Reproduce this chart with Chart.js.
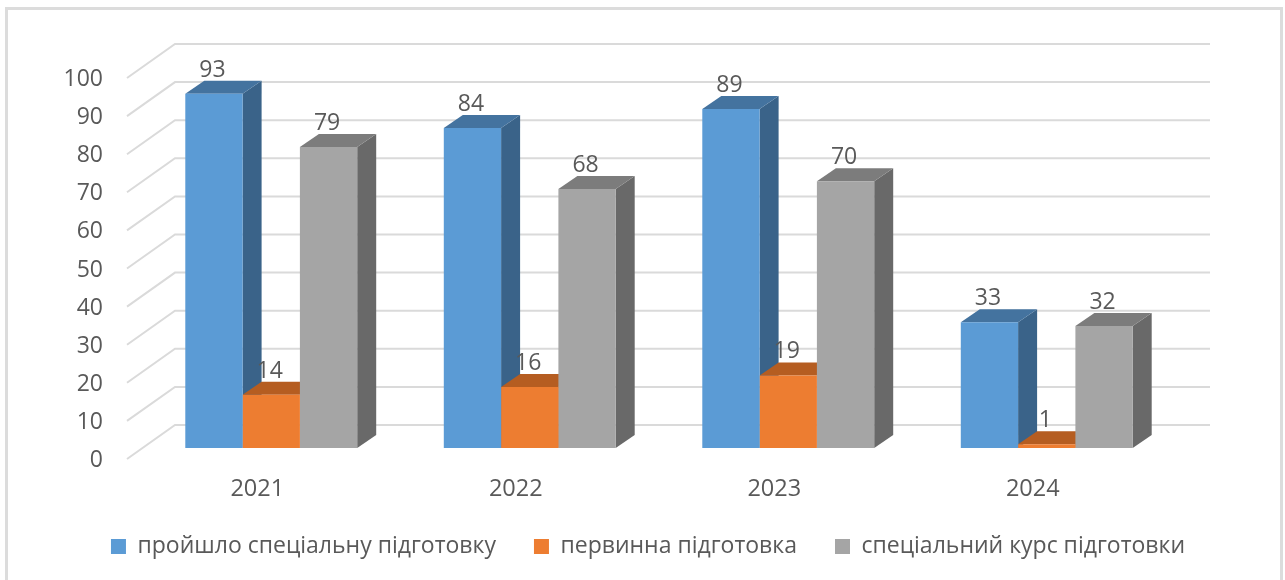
<!DOCTYPE html>
<html>
<head>
<meta charset="utf-8">
<script src="https://cdn.jsdelivr.net/npm/chart.js@4"></script>
<style>
  html, body { margin: 0; background: #fff; overflow: hidden; }
  #frame { position: absolute; left: 5px; top: 7px; width: 1272px; height: 600px; border: 3px solid #dcdcdc; }
  #mycanvas { position: absolute; left: 0; top: 0; filter: blur(0.4px); }
</style>
</head>
<body>
<div id="frame"></div>
<div style="position:absolute;left:0;top:0;width:1285px;height:580px">
  <canvas id="mycanvas" width="1285" height="580"></canvas>
</div>
<script>
var years = ['2021', '2022', '2023', '2024'];
var passedTraining = [93, 84, 89, 33];
var initialTraining = [14, 16, 19, 1];
var specialCourse = [79, 68, 70, 32];

var textColor = '#595959';
var fontName = '"Open Sans", "Noto Sans", sans-serif';

// colours of the fake 3D faces, same order as datasets
var topColors = ['#44739F', '#B55D21', '#7C7C7C'];
var sideColors = ['#3A6389', '#A0521D', '#696969'];

var depthX = 19, depthY = 13; // bar depth
var floorBack = [33, 23], floorFront = [15, 11]; // wall and front edge, from the bar plane

var grid3d = {
  id: 'grid3d',
  afterLayout: function(chart) {
    // legend is centred under the whole frame, not under the plot
    chart.legend.left += 60;
    chart.legend.right += 60;
  },
  beforeDatasetsDraw: function(chart) {
    var ctx = chart.ctx, y = chart.scales.y, area = chart.chartArea;
    ctx.save();
    ctx.strokeStyle = '#DADADA';
    ctx.lineWidth = 2;
    y.ticks.forEach(function(t) {
      var py = y.getPixelForValue(t.value);
      ctx.beginPath();
      ctx.moveTo(area.left - floorFront[0], py + floorFront[1]);
      ctx.lineTo(area.left + floorBack[0], py - floorBack[1]);
      ctx.lineTo(area.right + floorBack[0] + 1, py - floorBack[1]);
      ctx.stroke();
    });
    // sides and tops first, series by series, front faces come on top of them
    chart.data.datasets.forEach(function(ds, i) {
      chart.getDatasetMeta(i).data.forEach(function(bar) {
        var l = bar.x - bar.width / 2, r = bar.x + bar.width / 2;
        ctx.fillStyle = sideColors[i];
        ctx.beginPath();
        ctx.moveTo(r, bar.y);
        ctx.lineTo(r + depthX, bar.y - depthY);
        ctx.lineTo(r + depthX, bar.base - depthY);
        ctx.lineTo(r, bar.base);
        ctx.closePath();
        ctx.fill();
        ctx.fillStyle = topColors[i];
        ctx.beginPath();
        ctx.moveTo(l, bar.y);
        ctx.lineTo(l + depthX, bar.y - depthY);
        ctx.lineTo(r + depthX, bar.y - depthY);
        ctx.lineTo(r, bar.y);
        ctx.closePath();
        ctx.fill();
      });
    });
    ctx.restore();
  },
  afterDatasetsDraw: function(chart) {
    var ctx = chart.ctx;
    ctx.save();
    ctx.fillStyle = textColor;
    ctx.font = '23px ' + fontName;
    ctx.textAlign = 'center';
    ctx.textBaseline = 'middle';
    chart.data.datasets.forEach(function(ds, i) {
      chart.getDatasetMeta(i).data.forEach(function(bar, j) {
        ctx.fillText(ds.data[j], bar.x - 1.5, bar.y - 23.7);
      });
    });
    ctx.restore();
  }
};

var ctx = document.getElementById('mycanvas').getContext('2d');

var barGraph = new Chart(ctx, {
  type: 'bar',
  plugins: [grid3d],
  data: {
    labels: years,
    datasets: [
      { label: 'пройшло спеціальну підготовку', data: passedTraining, backgroundColor: '#5B9BD5' },
      { label: 'первинна підготовка', data: initialTraining, backgroundColor: '#ED7D31' },
      { label: 'спеціальний курс підготовки', data: specialCourse, backgroundColor: '#A5A5A5' }
    ]
  },
  options: {
    responsive: false,
    animation: false,
    barPercentage: 1,
    categoryPercentage: 0.665,
    layout: { padding: { top: 67, right: 109, bottom: 12, left: 0 } },
    plugins: {
      title: { display: false },
      tooltip: { enabled: false },
      legend: {
        position: 'bottom',
        labels: {
          color: textColor,
          font: { family: fontName, size: 23 },
          boxWidth: 15,
          boxHeight: 15,
          padding: 38
        }
      }
    },
    scales: {
      x: {
        grid: { display: false, drawTicks: false },
        border: { display: false },
        afterFit: function(s) { s.height = 49; },
        ticks: {
          color: textColor,
          font: { family: fontName, size: 23.5 },
          padding: 27,
          labelOffset: -14,
          maxRotation: 0
        }
      },
      y: {
        min: 0,
        max: 100,
        grid: { display: false, drawTicks: false },
        border: { display: false },
        afterFit: function(s) { s.width = 142; },
        ticks: {
          stepSize: 10,
          color: textColor,
          font: { family: fontName, size: 23 },
          padding: 39,
          labelOffset: 12.5
        }
      }
    }
  }
});
</script>
</body>
</html>
